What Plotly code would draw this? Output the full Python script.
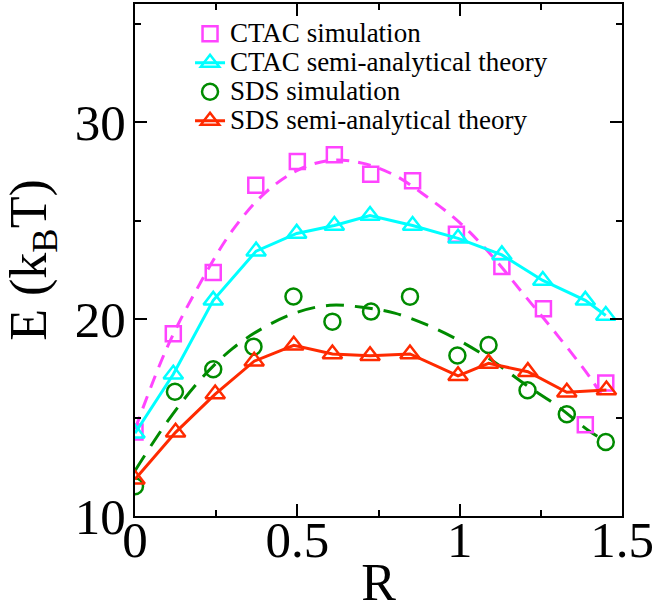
import plotly.graph_objects as go

# CTAC simulation (squares)
ctac_sim_R = [0.0, 0.118, 0.241, 0.372, 0.500, 0.614, 0.726, 0.855, 0.990, 1.130, 1.258, 1.387, 1.450]
ctac_sim_E = [14.26, 19.25, 22.36, 26.79, 28.00, 28.35, 27.35, 27.03, 24.31, 22.67, 20.52, 14.63, 16.75]

# CTAC semi-analytical theory (triangles)
ctac_th_R = [0.0, 0.118, 0.241, 0.373, 0.498, 0.614, 0.724, 0.855, 0.995, 1.130, 1.256, 1.387, 1.450]
ctac_th_E = [14.20, 17.20, 20.95, 23.45, 24.35, 24.75, 25.26, 24.75, 24.10, 23.26, 21.96, 20.95, 20.18]

# CTAC fit (dashed)
ctac_fit_R = [0.0, 0.1, 0.2, 0.3, 0.4, 0.5, 0.6, 0.7, 0.8, 0.9, 1.0, 1.1, 1.2, 1.3, 1.4, 1.45]
ctac_fit_E = [14.4, 18.6, 21.8, 24.5, 26.4, 27.55, 28.06, 27.92, 27.3, 26.2, 24.9, 23.2, 21.2, 19.2, 17.07, 15.8]

# SDS simulation (circles)
sds_sim_R = [0.0, 0.123, 0.241, 0.365, 0.488, 0.608, 0.727, 0.847, 0.993, 1.089, 1.209, 1.330, 1.450]
sds_sim_E = [11.51, 16.31, 17.45, 18.60, 21.15, 19.87, 20.38, 21.14, 18.15, 18.68, 16.39, 15.17, 13.76]

# SDS semi-analytical theory (triangles)
sds_th_R = [0.0, 0.125, 0.247, 0.367, 0.489, 0.608, 0.724, 0.847, 0.995, 1.089, 1.210, 1.330, 1.452]
sds_th_E = [11.87, 14.25, 16.19, 17.86, 18.67, 18.23, 18.14, 18.23, 17.12, 17.75, 17.33, 16.28, 16.40]

# SDS fit (dashed)
sds_fit_R = [0.0, 0.1, 0.2, 0.3, 0.4, 0.5, 0.6, 0.7, 0.8, 0.9, 1.0, 1.1, 1.2, 1.3, 1.4, 1.45]
sds_fit_E = [12.3, 14.8, 16.9, 18.5, 19.6, 20.35, 20.7, 20.6, 20.3, 19.7, 18.9, 17.9, 16.7, 15.6, 14.3, 13.8]

labels = ["CTAC simulation", "CTAC semi-analytical theory", "SDS simulation", "SDS semi-analytical theory"]
x_ticks = [0, 0.5, 1, 1.5]
x_ticktext = ["0", "0.5", "1", "1.5"]
y_ticks = [10, 20, 30]
y_ticktext = ["10", "20", "30"]

PINK = "#ff44ff"
CYAN = "#00ffff"
GREEN = "#008b00"
RED = "#ff2a00"
FONT = "Liberation Serif"


def lab(t):
    return '<span style="font-size:27px">' + t + '</span>'


fig = go.Figure()
fig.add_trace(go.Scatter(x=ctac_fit_R, y=ctac_fit_E, mode="lines", showlegend=False,
                         line=dict(color=PINK, width=3, dash="13px,9px", shape="spline")))
fig.add_trace(go.Scatter(x=sds_fit_R, y=sds_fit_E, mode="lines", showlegend=False,
                         line=dict(color=GREEN, width=3, dash="18px,11px", shape="spline")))
fig.add_trace(go.Scatter(x=ctac_sim_R, y=ctac_sim_E, mode="markers", name=lab(labels[0]),
                         marker=dict(symbol="square-open", size=15, color=PINK, line=dict(width=2.5, color=PINK))))
fig.add_trace(go.Scatter(x=ctac_th_R, y=ctac_th_E, mode="lines+markers", name=lab(labels[1]),
                         line=dict(color=CYAN, width=3),
                         marker=dict(symbol="triangle-up-open", size=17, color=CYAN, line=dict(width=2.5, color=CYAN))))
fig.add_trace(go.Scatter(x=sds_sim_R, y=sds_sim_E, mode="markers", name=lab(labels[2]),
                         marker=dict(symbol="circle-open", size=16, color=GREEN, line=dict(width=2.5, color=GREEN))))
fig.add_trace(go.Scatter(x=sds_th_R, y=sds_th_E, mode="lines+markers", name=lab(labels[3]),
                         line=dict(color=RED, width=3),
                         marker=dict(symbol="triangle-up-open", size=17, color=RED, line=dict(width=2.5, color=RED))))

axis_common = dict(showgrid=False, zeroline=False, showline=True, linecolor="black", linewidth=2,
                   mirror="ticks", ticks="inside", ticklen=12, tickwidth=1.5, tickcolor="black",
                   automargin=False,
                   tickfont=dict(family=FONT, size=51, color="black"))

fig.update_xaxes(range=[0, 1.5], tickvals=x_ticks, ticktext=x_ticktext, ticklabelstandoff=-22,
                 minor=dict(ticks="inside", ticklen=6, dtick=0.25, tick0=0, tickcolor="black", tickwidth=1.5),
                 title=dict(text="R", font=dict(family=FONT, size=52, color="black"), standoff=31),
                 **axis_common)
fig.update_yaxes(range=[10, 36], tickvals=y_ticks, ticktext=y_ticktext, ticklabelstandoff=-3,
                 minor=dict(ticks="inside", ticklen=6, dtick=5, tick0=10, tickcolor="black", tickwidth=1.5),
                 title=dict(text="E (k<sub>B</sub>T)", font=dict(family=FONT, size=52, color="black"), standoff=15),
                 **axis_common)

fig.update_layout(
    width=658, height=611,
    margin=dict(l=135, r=36, t=4, b=95, autoexpand=False),
    plot_bgcolor="white", paper_bgcolor="white",
    font=dict(family=FONT, color="black"),
    legend=dict(x=0.113, y=0.98, xanchor="left", yanchor="top", bgcolor="rgba(0,0,0,0)",
                font=dict(family=FONT, size=20, color="black"), tracegroupgap=0),
)

fig.write_html("out.html")
